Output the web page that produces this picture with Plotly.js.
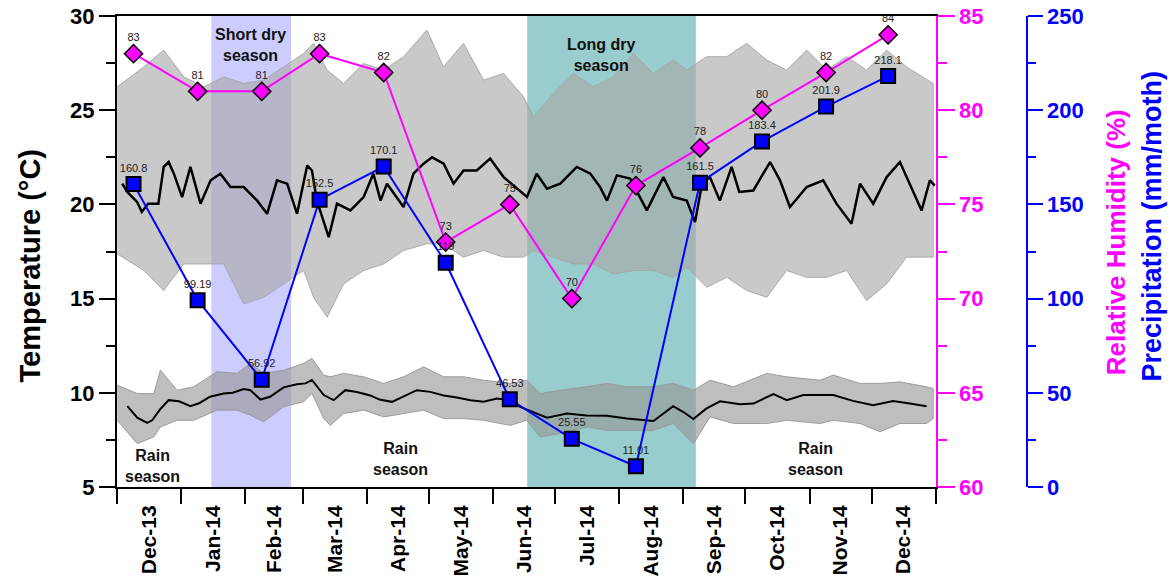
<!DOCTYPE html>
<html><head><meta charset="utf-8">
<script src="https://cdn.plot.ly/plotly-3.0.1.min.js"></script>
<style>html,body{margin:0;padding:0;background:#fff}</style>
</head><body><div id="chart" style="width:1175px;height:585px"></div>
<script>
// ---- monthly values ----
const monthDates = ['2013-12-09','2014-01-09','2014-02-09','2014-03-09','2014-04-09','2014-05-09','2014-06-09','2014-07-09','2014-08-09','2014-09-09','2014-10-09','2014-11-09','2014-12-09'];
const humidity = [83,81,81,83,82,73,75,70,76,78,80,82,84];
const precip = [160.8,99.19,56.92,152.5,170.1,119,46.53,25.55,11.01,161.5,183.4,201.9,218.1];
const precipLabels = ['160.8','99.19','56.92','152.5','170.1','119','46.53','25.55','11.01','161.5','183.4','201.9','218.1'];

// ---- daily temperature (days since 2013-12-01) ----
const maxBandDays = [0.1,13,22.6,32.3,42,51.6,61.3,71,80.6,90.3,95.1,101.6,109.6,119.3,129,138.6,149.9,157.9,167.6,177.3,187,196.6,201.5,211.1,220.8,230.4,240.1,249.8,259.4,269.1,275.6,285.3,294.9,304.6,314.3,323.9,333.6,343.3,352.9,362.6,372.3,381.9,394.8];
const maxBandTop = [26.24,27.3,28.19,26.77,26.24,26.77,26.42,26.6,27.3,28.01,28.55,27.13,26.42,27.48,27.13,27.84,29.26,27.3,28.55,26.6,26.95,25.71,24.65,25.89,26.95,26.24,26.77,28.01,26.95,27.66,27.13,27.84,27.84,28.55,27.66,27.13,28.19,27.13,27.84,27.13,28.19,27.3,26.42];
const maxBandBottom = [17.38,16.49,15.43,16.84,16.84,16.84,14.72,15.07,15.78,16.49,15.07,14.01,15.78,16.49,16.84,17.55,17.91,17.91,17.2,17.55,17.2,17.2,17.55,17.2,16.84,16.84,16.31,16.49,16.49,16.13,16.67,15.6,16.13,15.43,15.07,16.49,16.13,16.13,16.49,14.89,15.78,17.2,17.2];

const maxMeanDays = [2.5,5,9.8,12,15,20,22.6,25,27.5,31.5,35.5,40.4,45.3,50,54.9,61.3,67.8,72.6,77.4,82.3,87.1,92,94.3,96.7,102.4,106.4,112.9,119.3,124,127.5,130.6,135.4,138.6,143.4,148.3,152.4,158,162.8,167.6,174,180.5,187,196.6,198.3,203,208,214.4,222.4,229,233.7,237,241.8,248.2,256.3,264.3,269,275.6,279.6,283,286.8,291.6,297.3,301,307.8,315.9,320.7,325.5,333.6,341.6,348,355.3,359.4,365.8,372.3,378.7,383.5,389.2,393.2,395.6];
const maxMean = [21.1,20.66,20.12,19.6,20.04,20.04,21.99,22.25,21.63,20.39,21.99,20.04,21.28,21.63,20.92,20.92,20.2,19.5,21.28,21.1,19.5,22.07,21.8,20.2,18.26,20.04,19.68,20.39,21.63,20.2,21.1,20.39,19.86,21.63,22.16,22.5,22.16,21.1,21.8,21.8,22.43,21.45,20.57,20.39,21.63,20.83,21.1,21.99,21.63,20.92,20.2,21.54,21.37,19.68,21.45,20.39,20.2,19.06,21.1,21.45,20.2,21.99,20.66,20.74,22.25,21.28,19.86,20.92,21.28,20.04,18.97,21.1,20.04,21.45,22.25,21.1,19.68,21.28,21.0];

const minBandDays = [0.1,9.8,17.8,21,29.1,37.1,48.4,58.1,64.5,71,80.6,90.3,94.3,100,103.2,109.6,119.3,129,138.6,148.3,158,167.6,177.3,190.2,198.2,204.7,214.4,227.3,236.9,246.6,259.5,269.1,278.8,286.9,298.2,314.3,323.9,340.1,346.5,359.4,369.1,378.7,391.6,394.8];
const minBandTop = [10.41,9.96,9.96,11.2,10.14,10.32,11.12,11.03,11.56,11.03,11.2,11.56,11.83,10.94,10.85,11.03,10.85,10.5,10.85,11.38,10.85,10.85,10.67,10.5,10.67,9.96,10.14,10.32,10.5,10.32,10.32,10.5,10.14,10.67,10.32,11.03,10.85,10.67,10.94,10.5,10.5,10.58,10.32,10.23];
const minBandBottom = [8.54,7.3,7.66,8.19,8.54,8.54,9.08,9.08,8.81,8.46,9.26,9.52,9.96,8.63,8.27,8.9,9.08,8.72,8.9,9.08,8.63,8.63,8.54,8.27,8.54,7.66,7.84,8.19,8.01,8.01,8.01,8.37,7.3,8.72,8.37,8.37,8.54,8.37,8.54,8.37,7.93,8.37,8.37,8.63];

const minMeanDays = [5,9.8,14.6,17,21,25,30,35.5,40,45,51.6,56,61.3,64.5,69.4,74,80.6,87,91.2,94.3,100,104.8,110.4,116,122.5,127,133,138.6,145,151.5,158,164.4,171,177.3,183.8,190,195,208,217.6,227,237,246.6,259.5,269,274,278.8,285,291.7,301.4,307.8,317.5,324,332,346.5,356,365.8,375.4,383.5,391.6];
const minMean = [9.29,8.68,8.4,8.54,9.14,9.61,9.55,9.29,9.46,9.79,9.96,10.0,10.2,10.14,9.64,9.79,10.29,10.45,10.5,10.68,9.88,9.61,10.14,10.04,9.86,9.64,9.52,9.79,10.14,10.05,9.86,9.75,9.61,9.52,9.7,9.61,9.25,8.68,8.9,8.8,8.78,8.63,8.5,9.29,8.98,8.61,9.16,9.55,9.39,9.43,9.93,9.61,9.88,9.88,9.57,9.34,9.57,9.43,9.29];

// ---- helpers ----
const base = Date.UTC(2013, 11, 1);
function toDate(d) { return new Date(base + d * 86400000).toISOString().slice(0, 19).replace('T', ' '); }
const D = arr => arr.map(toDate);
function band(days, top, bottom) {
  return { x: D(days).concat(D(days).reverse()), y: top.concat(bottom.slice().reverse()) };
}
const FONT = 'Liberation Sans, Arial, sans-serif';
const maxB = band(maxBandDays, maxBandTop, maxBandBottom);
const minB = band(minBandDays, minBandTop, minBandBottom);

const traces = [
  { x: maxB.x, y: maxB.y, type: 'scatter', mode: 'lines', fill: 'toself', fillcolor: 'rgba(168,168,168,0.62)', line: { color: 'rgba(165,165,165,0.9)', width: 1 }, hoverinfo: 'skip', showlegend: false },
  { x: minB.x, y: minB.y, type: 'scatter', mode: 'lines', fill: 'toself', fillcolor: 'rgba(150,150,150,0.62)', line: { color: 'rgba(150,150,150,0.9)', width: 1 }, hoverinfo: 'skip', showlegend: false },
  { x: D(maxMeanDays), y: maxMean, type: 'scatter', mode: 'lines', line: { color: '#000', width: 2.5 }, showlegend: false },
  { x: D(minMeanDays), y: minMean, type: 'scatter', mode: 'lines', line: { color: '#000', width: 2 }, showlegend: false },
  { x: monthDates, y: humidity, yaxis: 'y2', type: 'scatter', mode: 'lines+markers+text', text: humidity.map(String), textposition: 'top center',
    textfont: { family: FONT, size: 11, color: '#222' }, cliponaxis: false,
    line: { color: '#ff00ff', width: 2 }, marker: { symbol: 'diamond', size: 14, color: '#ff00ff', line: { color: '#000', width: 1.5 } }, showlegend: false },
  { x: monthDates, y: precip, yaxis: 'y3', type: 'scatter', mode: 'lines+markers+text', text: precipLabels, textposition: 'top center',
    textfont: { family: FONT, size: 11, color: '#222' }, cliponaxis: false,
    line: { color: '#0000ff', width: 2 }, marker: { symbol: 'square', size: 14, color: '#0000ff', line: { color: '#000', width: 2 } }, showlegend: false }
];

const bold = (size, color) => ({ family: FONT, size: size, color: color, weight: 'bold' });
const xDomEnd = 0.7887;

const layout = {
  width: 1175, height: 585,
  margin: { l: 117, r: 20, t: 16, b: 98 },
  paper_bgcolor: '#fff', plot_bgcolor: 'rgba(0,0,0,0)',
  showlegend: false,
  font: { family: FONT },
  xaxis: {
    type: 'date', domain: [0, xDomEnd], range: ['2013-12-01', '2015-01-01'],
    dtick: 'M1', tick0: '2013-12-01', tickformat: '%b-%y', ticklabelmode: 'period', tickangle: -90,
    ticks: 'outside', ticklen: 15, tickwidth: 2, tickcolor: '#000', ticklabelstandoff: -7,
    showline: true, linewidth: 2, linecolor: '#000', mirror: true,
    showgrid: false, zeroline: false, tickfont: bold(21, '#000')
  },
  yaxis: {
    range: [5, 30], dtick: 5, tick0: 5, ticks: 'outside', ticklen: 16, tickwidth: 2, tickcolor: '#000',
    minor: { dtick: 2.5, ticks: 'outside', ticklen: 9, tickwidth: 2, tickcolor: '#000', showgrid: false },
    showline: true, linewidth: 2, linecolor: '#000', showgrid: false, zeroline: false,
    tickfont: bold(22, '#000')
  },
  yaxis2: {
    overlaying: 'y', side: 'right', anchor: 'x', range: [60, 85], dtick: 5, tick0: 60,
    ticks: 'outside', ticklen: 17, tickwidth: 2, tickcolor: '#ff00ff',
    minor: { dtick: 2.5, ticks: 'outside', ticklen: 9, tickwidth: 2, tickcolor: '#ff00ff', showgrid: false },
    showline: true, linewidth: 2, linecolor: '#ff00ff', showgrid: false, zeroline: false,
    tickfont: bold(22, '#ff00ff')
  },
  yaxis3: {
    overlaying: 'y', side: 'right', anchor: 'free', position: 0.8764, range: [0, 250], dtick: 50, tick0: 0,
    ticks: 'outside', ticklen: 15, tickwidth: 2, tickcolor: '#0000ff',
    minor: { dtick: 25, ticks: 'outside', ticklen: 8, tickwidth: 2, tickcolor: '#0000ff', showgrid: false },
    showline: true, linewidth: 2, linecolor: '#0000ff', showgrid: false, zeroline: false,
    tickfont: bold(22, '#0000ff')
  },
  shapes: [
    { type: 'rect', xref: 'x', yref: 'paper', x0: '2014-01-15 15:00', x1: '2014-02-23 05:00', y0: 0, y1: 1, fillcolor: '#ccccff', line: { width: 0 }, layer: 'below' },
    { type: 'rect', xref: 'x', yref: 'paper', x0: '2014-06-17 10:00', x1: '2014-09-07 00:00', y0: 0, y1: 1, fillcolor: '#99cccc', line: { width: 0 }, layer: 'below' }
  ],
  annotations: [
    { text: 'Temperature (°C)', xref: 'paper', yref: 'paper', x: -0.084, y: 0.47, textangle: -90, showarrow: false, font: bold(29, '#000'), xanchor: 'center', yanchor: 'middle' },
    { text: 'Relative Humidity (%)', xref: 'paper', yref: 'paper', x: 0.9625, y: 0.52, textangle: -90, showarrow: false, font: bold(26, '#ff00ff'), xanchor: 'center', yanchor: 'middle' },
    { text: 'Precipitation (mm/moth)', xref: 'paper', yref: 'paper', x: 0.997, y: 0.555, textangle: -90, showarrow: false, font: bold(27, '#0000ff'), xanchor: 'center', yanchor: 'middle' },
    { text: 'Short dry<br>season', xref: 'x', yref: 'y', x: '2014-02-03 12:00', y: 28.45, showarrow: false, font: bold(16, '#111') },
    { text: 'Long dry<br>season', xref: 'x', yref: 'y', x: '2014-07-23 12:00', y: 27.93, showarrow: false, font: bold(16, '#111') },
    { text: 'Rain<br>season', xref: 'x', yref: 'y', x: '2013-12-18 05:00', y: 6.09, showarrow: false, font: bold(16, '#111') },
    { text: 'Rain<br>season', xref: 'x', yref: 'y', x: '2014-04-17 00:00', y: 6.46, showarrow: false, font: bold(16, '#111') },
    { text: 'Rain<br>season', xref: 'x', yref: 'y', x: '2014-11-04 00:00', y: 6.51, showarrow: false, font: bold(16, '#111') }
  ]
};

Plotly.newPlot('chart', traces, layout, { displayModeBar: false, staticPlot: true });
</script>
</body></html>
